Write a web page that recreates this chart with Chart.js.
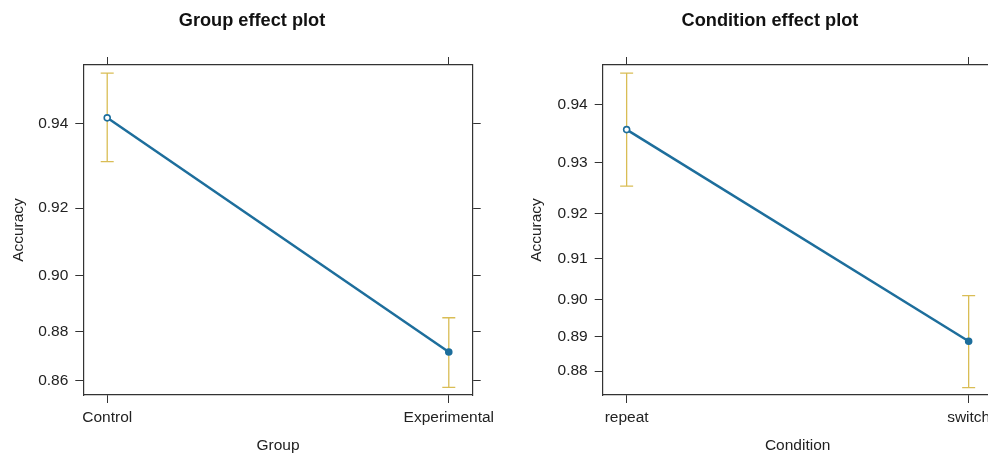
<!DOCTYPE html>
<html>
<head>
<meta charset="utf-8">
<script src="https://cdn.jsdelivr.net/npm/chart.js@4/dist/chart.umd.min.js"></script>
<style>
html, body { margin: 0; padding: 0; background: #fff; overflow: hidden; width: 988px; height: 455px; }
.panel { position: absolute; top: 0; height: 455px; }
#p1 { left: 0; width: 504px; }
#p2 { left: 504px; width: 532px; }
</style>
</head>
<body>
<div class="panel" id="p1"><canvas id="c1"></canvas></div>
<div class="panel" id="p2"><canvas id="c2"></canvas></div>
<script>
// ---- Data ----
const groupCategories = ['Control', 'Experimental'];
const groupFit = [0.9411, 0.8720];
const groupLower = [0.9316, 0.8569];
const groupUpper = [0.9495, 0.8853];
const groupTickLabels = ['0.86', '0.88', '0.90', '0.92', '0.94'];
const groupRange = [0.8535, 0.9509];

const conditionCategories = ['repeat', 'switch'];
const conditionFit = [0.9359, 0.8887];
const conditionLower = [0.9255, 0.8749];
const conditionUpper = [0.9449, 0.9009];
const conditionTickLabels = ['0.88', '0.89', '0.90', '0.91', '0.92', '0.93', '0.94'];
const conditionRange = [0.8726, 0.9461];

// ---- Styling ----
const FONT = '"Liberation Sans", Arial, sans-serif';
const LINE_COLOR = '#1d6e9c';
const BAR_COLOR = '#d9bd55';
const AXIS_COLOR = '#333333';
const TEXT_COLOR = '#222222';

const logit = p => Math.log(p / (1 - p));

const errorBarPlugin = {
  id: 'errorBars',
  beforeDatasetsDraw(chart, args, opts) {
    const {ctx} = chart;
    const xs = chart.scales.x, ys = chart.scales.y;
    ctx.save();
    ctx.strokeStyle = BAR_COLOR;
    ctx.lineWidth = 1.3;
    opts.lower.forEach((lo, i) => {
      const x = xs.getPixelForValue(i);
      const y1 = ys.getPixelForValue(logit(lo));
      const y2 = ys.getPixelForValue(logit(opts.upper[i]));
      const w = 6.5;
      ctx.beginPath();
      ctx.moveTo(x, y1); ctx.lineTo(x, y2);
      ctx.moveTo(x - w, y1); ctx.lineTo(x + w, y1);
      ctx.moveTo(x - w, y2); ctx.lineTo(x + w, y2);
      ctx.stroke();
    });
    ctx.restore();
  }
};

function makeChart(id, cfg) {
  const yTickValues = cfg.tickLabels.map(Number);
  const setYTicks = s => { s.ticks = yTickValues.map(v => ({value: logit(v)})); };
  const setXTicks = s => { s.ticks = cfg.categories.map((c, i) => ({value: i})); };
  const grid = {display: true, drawOnChartArea: false, drawTicks: true, tickLength: 8, color: AXIS_COLOR, lineWidth: 1};
  const border = {display: true, color: AXIS_COLOR, width: 1.2};
  const tickFont = {family: FONT, size: 15.5};
  return new Chart(document.getElementById(id), {
    type: 'line',
    data: {
      datasets: [{
        data: cfg.fit.map((v, i) => ({x: i, y: logit(v)})),
        borderColor: LINE_COLOR,
        borderWidth: 2.5,
        pointRadius: 3,
        pointBorderWidth: 1.6,
        pointBorderColor: LINE_COLOR,
        pointBackgroundColor: ['#ffffff', LINE_COLOR],
        tension: 0
      }]
    },
    plugins: [errorBarPlugin],
    options: {
      responsive: true,
      maintainAspectRatio: false,
      animation: false,
      layout: {padding: 0},
      plugins: {
        legend: {display: false},
        tooltip: {enabled: false},
        title: {
          display: true,
          text: cfg.title,
          color: '#111111',
          font: {family: FONT, size: 18.2, weight: 'bold', lineHeight: 1},
          padding: {top: 12, bottom: 0}
        },
        errorBars: {lower: cfg.lower, upper: cfg.upper}
      },
      scales: {
        x: {
          type: 'linear', position: 'bottom',
          min: -0.07, max: 1.07,
          afterBuildTicks: setXTicks,
          afterFit: s => { s.height = 60; },
          grid, border,
          ticks: {autoSkip: false, maxRotation: 0, padding: 5, color: TEXT_COLOR, font: tickFont,
                  callback: (v, i) => cfg.categories[i]},
          title: {display: true, text: cfg.xTitle, color: TEXT_COLOR,
                  font: {family: FONT, size: 15.5, lineHeight: 1.2}, padding: {top: 0, bottom: 0}}
        },
        x2: {
          type: 'linear', position: 'top',
          min: -0.07, max: 1.07,
          afterBuildTicks: setXTicks,
          afterFit: s => { s.height = 34.8; },
          grid, border,
          ticks: {display: false}
        },
        y: {
          type: 'linear', position: 'left',
          min: logit(cfg.range[0]), max: logit(cfg.range[1]),
          afterBuildTicks: setYTicks,
          afterFit: s => { s.width = cfg.yWidth; },
          grid, border,
          ticks: {autoSkip: false, padding: 7, color: TEXT_COLOR, font: tickFont,
                  callback: (v, i) => cfg.tickLabels[i]},
          title: {display: true, text: 'Accuracy', color: TEXT_COLOR,
                  font: {family: FONT, size: 15.5, lineHeight: 1.2}, padding: {top: cfg.yTitlePad, bottom: 0}}
        },
        y2: {
          type: 'linear', position: 'right',
          min: logit(cfg.range[0]), max: logit(cfg.range[1]),
          afterBuildTicks: setYTicks,
          afterFit: s => { s.width = cfg.y2Width; },
          grid, border,
          ticks: {display: false}
        }
      }
    }
  });
}

makeChart('c1', {
  title: 'Group effect plot', xTitle: 'Group',
  categories: groupCategories, fit: groupFit, lower: groupLower, upper: groupUpper,
  tickLabels: groupTickLabels, range: groupRange,
  yWidth: 83.3, y2Width: 31.3, yTitlePad: 9
});
makeChart('c2', {
  title: 'Condition effect plot', xTitle: 'Condition',
  categories: conditionCategories, fit: conditionFit, lower: conditionLower, upper: conditionUpper,
  tickLabels: conditionTickLabels, range: conditionRange,
  yWidth: 98.7, y2Width: 43.4, yTitlePad: 23
});
</script>
</body>
</html>
